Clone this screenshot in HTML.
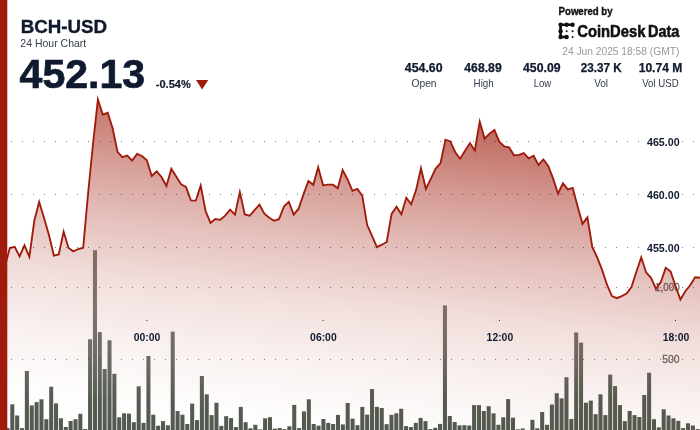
<!DOCTYPE html>
<html><head><meta charset="utf-8"><title>BCH-USD 24 Hour Chart</title>
<style>
html,body{margin:0;padding:0;background:#fff;}
body{width:700px;height:430px;overflow:hidden;position:relative;font-family:"Liberation Sans", sans-serif;}
svg{position:absolute;left:0;top:0;display:block;will-change:transform}
text{font-family:"Liberation Sans", sans-serif;}
.b{font-weight:700}
</style></head><body>
<svg width="700" height="430" viewBox="0 0 700 430">
<defs>
<linearGradient id="g" gradientUnits="userSpaceOnUse" x1="0" y1="40" x2="-42.4" y2="425.3">
<stop offset="0" stop-color="#9f1b0b" stop-opacity="0.762"/>
<stop offset="0.1133" stop-color="#9f1b0b" stop-opacity="0.625"/>
<stop offset="0.2749" stop-color="#9f1b0b" stop-opacity="0.43"/>
<stop offset="0.4338" stop-color="#9f1b0b" stop-opacity="0.268"/>
<stop offset="0.5877" stop-color="#9f1b0b" stop-opacity="0.14"/>
<stop offset="0.7497" stop-color="#9f1b0b" stop-opacity="0.055"/>
<stop offset="0.8908" stop-color="#9f1b0b" stop-opacity="0.01"/>
<stop offset="1" stop-color="#9f1b0b" stop-opacity="0"/>
</linearGradient>
<linearGradient id="bg" gradientUnits="userSpaceOnUse" x1="0" y1="250" x2="0" y2="430">
<stop offset="0" stop-color="#384236" stop-opacity="0.675"/>
<stop offset="0.333" stop-color="#384236" stop-opacity="0.685"/>
<stop offset="0.611" stop-color="#384236" stop-opacity="0.757"/>
<stop offset="0.833" stop-color="#384236" stop-opacity="0.86"/>
<stop offset="1" stop-color="#384236" stop-opacity="0.87"/>
</linearGradient>
</defs>
<rect width="700" height="430" fill="#fff"/>
<!-- volume axis -->
<g stroke="#000" stroke-opacity="0.5" stroke-width="1" stroke-dasharray="1 10"><line x1="0" x2="700" y1="287.5" y2="287.5"/><line x1="0" x2="700" y1="359.5" y2="359.5"/></g>
<g fill="#666" stroke="#666" stroke-width="0.3" font-size="10.2" text-anchor="end"><text x="679.6" y="291" textLength="24.5" lengthAdjust="spacingAndGlyphs">1,000</text><text x="679.6" y="363.2" textLength="17.3" lengthAdjust="spacingAndGlyphs">500</text></g>
<g fill="url(#bg)"><rect x="0.56" y="427.00" width="4.05" height="3.00"/><rect x="5.42" y="428.00" width="4.05" height="2.00"/><rect x="10.28" y="404.30" width="4.05" height="25.70"/><rect x="15.14" y="415.50" width="4.05" height="14.50"/><rect x="20.00" y="428.10" width="4.05" height="1.90"/><rect x="24.86" y="371.00" width="4.05" height="59.00"/><rect x="29.72" y="405.40" width="4.05" height="24.60"/><rect x="34.58" y="402.10" width="4.05" height="27.90"/><rect x="39.44" y="399.30" width="4.05" height="30.70"/><rect x="44.31" y="419.20" width="4.05" height="10.80"/><rect x="49.17" y="386.70" width="4.05" height="43.30"/><rect x="54.03" y="403.40" width="4.05" height="26.60"/><rect x="58.89" y="418.30" width="4.05" height="11.70"/><rect x="63.75" y="427.00" width="4.05" height="3.00"/><rect x="68.61" y="421.00" width="4.05" height="9.00"/><rect x="73.47" y="419.20" width="4.05" height="10.80"/><rect x="78.33" y="413.80" width="4.05" height="16.20"/><rect x="83.19" y="429.00" width="4.05" height="1.00"/><rect x="88.06" y="339.30" width="4.05" height="90.70"/><rect x="92.92" y="250.20" width="4.05" height="179.80"/><rect x="97.78" y="332.10" width="4.05" height="97.90"/><rect x="102.64" y="369.00" width="4.05" height="61.00"/><rect x="107.50" y="340.30" width="4.05" height="89.70"/><rect x="112.36" y="373.80" width="4.05" height="56.20"/><rect x="117.22" y="417.30" width="4.05" height="12.70"/><rect x="122.08" y="413.30" width="4.05" height="16.70"/><rect x="126.94" y="413.60" width="4.05" height="16.40"/><rect x="131.81" y="422.20" width="4.05" height="7.80"/><rect x="136.67" y="386.30" width="4.05" height="43.70"/><rect x="141.53" y="422.90" width="4.05" height="7.10"/><rect x="146.39" y="356.00" width="4.05" height="74.00"/><rect x="151.25" y="414.70" width="4.05" height="15.30"/><rect x="156.11" y="425.70" width="4.05" height="4.30"/><rect x="160.97" y="421.10" width="4.05" height="8.90"/><rect x="165.83" y="425.30" width="4.05" height="4.70"/><rect x="170.69" y="331.60" width="4.05" height="98.40"/><rect x="175.56" y="411.00" width="4.05" height="19.00"/><rect x="180.42" y="414.70" width="4.05" height="15.30"/><rect x="185.28" y="424.00" width="4.05" height="6.00"/><rect x="190.14" y="403.60" width="4.05" height="26.40"/><rect x="195.00" y="420.10" width="4.05" height="9.90"/><rect x="199.86" y="376.00" width="4.05" height="54.00"/><rect x="204.72" y="394.30" width="4.05" height="35.70"/><rect x="209.58" y="415.10" width="4.05" height="14.90"/><rect x="214.44" y="402.80" width="4.05" height="27.20"/><rect x="219.31" y="425.90" width="4.05" height="4.10"/><rect x="224.17" y="416.20" width="4.05" height="13.80"/><rect x="229.03" y="418.10" width="4.05" height="11.90"/><rect x="233.89" y="427.00" width="4.05" height="3.00"/><rect x="238.75" y="406.90" width="4.05" height="23.10"/><rect x="243.61" y="422.20" width="4.05" height="7.80"/><rect x="248.47" y="428.30" width="4.05" height="1.70"/><rect x="253.33" y="424.80" width="4.05" height="5.20"/><rect x="258.19" y="429.30" width="4.05" height="0.70"/><rect x="263.06" y="418.30" width="4.05" height="11.70"/><rect x="267.92" y="417.20" width="4.05" height="12.80"/><rect x="272.78" y="428.70" width="4.05" height="1.30"/><rect x="277.64" y="428.00" width="4.05" height="2.00"/><rect x="282.50" y="429.10" width="4.05" height="0.90"/><rect x="287.36" y="426.30" width="4.05" height="3.70"/><rect x="292.22" y="404.90" width="4.05" height="25.10"/><rect x="297.08" y="428.10" width="4.05" height="1.90"/><rect x="301.94" y="411.40" width="4.05" height="18.60"/><rect x="306.81" y="399.30" width="4.05" height="30.70"/><rect x="311.67" y="424.00" width="4.05" height="6.00"/><rect x="316.53" y="425.70" width="4.05" height="4.30"/><rect x="321.39" y="419.00" width="4.05" height="11.00"/><rect x="326.25" y="422.90" width="4.05" height="7.10"/><rect x="331.11" y="424.00" width="4.05" height="6.00"/><rect x="335.97" y="414.90" width="4.05" height="15.10"/><rect x="340.83" y="424.40" width="4.05" height="5.60"/><rect x="345.69" y="403.00" width="4.05" height="27.00"/><rect x="350.56" y="418.70" width="4.05" height="11.30"/><rect x="355.42" y="425.20" width="4.05" height="4.80"/><rect x="360.28" y="406.90" width="4.05" height="23.10"/><rect x="365.14" y="414.60" width="4.05" height="15.40"/><rect x="370.00" y="389.10" width="4.05" height="40.90"/><rect x="374.86" y="406.90" width="4.05" height="23.10"/><rect x="379.72" y="408.00" width="4.05" height="22.00"/><rect x="384.58" y="424.20" width="4.05" height="5.80"/><rect x="389.44" y="414.90" width="4.05" height="15.10"/><rect x="394.31" y="413.30" width="4.05" height="16.70"/><rect x="399.17" y="408.80" width="4.05" height="21.20"/><rect x="404.03" y="426.10" width="4.05" height="3.90"/><rect x="408.89" y="427.00" width="4.05" height="3.00"/><rect x="413.75" y="422.90" width="4.05" height="7.10"/><rect x="418.61" y="417.90" width="4.05" height="12.10"/><rect x="423.47" y="421.10" width="4.05" height="8.90"/><rect x="428.33" y="429.10" width="4.05" height="0.90"/><rect x="433.19" y="427.80" width="4.05" height="2.20"/><rect x="438.06" y="423.90" width="4.05" height="6.10"/><rect x="442.92" y="305.40" width="4.05" height="124.60"/><rect x="447.78" y="416.00" width="4.05" height="14.00"/><rect x="452.64" y="422.00" width="4.05" height="8.00"/><rect x="457.50" y="425.30" width="4.05" height="4.70"/><rect x="462.36" y="425.20" width="4.05" height="4.80"/><rect x="467.22" y="425.50" width="4.05" height="4.50"/><rect x="472.08" y="405.10" width="4.05" height="24.90"/><rect x="476.94" y="405.10" width="4.05" height="24.90"/><rect x="481.81" y="411.00" width="4.05" height="19.00"/><rect x="486.67" y="406.20" width="4.05" height="23.80"/><rect x="491.53" y="413.30" width="4.05" height="16.70"/><rect x="496.39" y="424.80" width="4.05" height="5.20"/><rect x="501.25" y="417.30" width="4.05" height="12.70"/><rect x="506.11" y="399.10" width="4.05" height="30.90"/><rect x="510.97" y="417.70" width="4.05" height="12.30"/><rect x="515.83" y="429.30" width="4.05" height="0.70"/><rect x="520.69" y="428.50" width="4.05" height="1.50"/><rect x="530.42" y="419.80" width="4.05" height="10.20"/><rect x="535.28" y="428.30" width="4.05" height="1.70"/><rect x="540.14" y="412.00" width="4.05" height="18.00"/><rect x="545.00" y="424.80" width="4.05" height="5.20"/><rect x="549.86" y="404.50" width="4.05" height="25.50"/><rect x="554.72" y="393.20" width="4.05" height="36.80"/><rect x="559.58" y="398.40" width="4.05" height="31.60"/><rect x="564.44" y="377.20" width="4.05" height="52.80"/><rect x="569.31" y="419.00" width="4.05" height="11.00"/><rect x="574.17" y="332.40" width="4.05" height="97.60"/><rect x="579.03" y="342.60" width="4.05" height="87.40"/><rect x="583.89" y="402.70" width="4.05" height="27.30"/><rect x="588.75" y="400.60" width="4.05" height="29.40"/><rect x="593.61" y="414.20" width="4.05" height="15.80"/><rect x="598.47" y="394.30" width="4.05" height="35.70"/><rect x="603.33" y="415.10" width="4.05" height="14.90"/><rect x="608.19" y="374.60" width="4.05" height="55.40"/><rect x="613.06" y="386.10" width="4.05" height="43.90"/><rect x="617.92" y="405.10" width="4.05" height="24.90"/><rect x="622.78" y="421.10" width="4.05" height="8.90"/><rect x="627.64" y="411.00" width="4.05" height="19.00"/><rect x="632.50" y="415.10" width="4.05" height="14.90"/><rect x="637.36" y="417.00" width="4.05" height="13.00"/><rect x="642.22" y="395.00" width="4.05" height="35.00"/><rect x="647.08" y="372.70" width="4.05" height="57.30"/><rect x="651.94" y="419.20" width="4.05" height="10.80"/><rect x="656.81" y="427.40" width="4.05" height="2.60"/><rect x="661.67" y="409.30" width="4.05" height="20.70"/><rect x="666.53" y="415.50" width="4.05" height="14.50"/><rect x="671.39" y="418.30" width="4.05" height="11.70"/><rect x="676.25" y="420.90" width="4.05" height="9.10"/><rect x="681.11" y="428.10" width="4.05" height="1.90"/><rect x="685.97" y="423.30" width="4.05" height="6.70"/><rect x="690.83" y="425.50" width="4.05" height="4.50"/><rect x="695.69" y="429.10" width="4.05" height="0.90"/></g>
<!-- price area -->
<path d="M0.00,252.00 L4.90,266.79 L9.79,248.00 L14.69,246.76 L19.58,256.36 L24.48,245.37 L29.37,256.88 L34.27,221.00 L39.16,201.86 L44.06,218.00 L48.95,235.00 L53.85,255.54 L58.74,254.50 L63.64,231.73 L68.53,248.00 L73.43,251.36 L78.32,249.00 L83.22,247.70 L88.11,193.00 L93.01,144.00 L97.90,99.50 L102.80,114.63 L107.69,112.79 L112.59,128.10 L117.48,151.80 L122.38,157.23 L127.27,155.62 L132.17,160.61 L137.06,153.87 L141.96,156.00 L146.85,160.30 L151.75,176.02 L156.64,171.40 L161.54,177.00 L166.43,185.97 L171.33,168.76 L176.22,176.60 L181.12,184.40 L186.01,186.90 L190.91,200.40 L195.80,200.66 L200.70,185.46 L205.59,211.00 L210.49,222.93 L215.38,219.01 L220.28,219.80 L225.17,215.70 L230.07,209.69 L234.97,214.69 L239.86,192.10 L244.76,214.50 L249.65,215.75 L254.55,210.20 L259.44,204.69 L264.34,213.60 L269.23,217.70 L274.13,220.70 L279.02,219.20 L283.92,206.50 L288.81,201.94 L293.71,214.70 L298.60,208.70 L303.50,194.40 L308.39,181.03 L313.29,184.81 L318.18,167.24 L323.08,185.30 L327.97,184.60 L332.87,184.70 L337.76,188.29 L342.66,169.94 L347.55,179.50 L352.45,190.81 L357.34,188.86 L362.24,195.70 L367.13,224.80 L372.03,235.90 L376.92,247.17 L381.82,244.70 L386.71,242.00 L391.61,213.90 L396.50,206.68 L401.40,214.30 L406.29,197.69 L411.19,204.21 L416.08,190.10 L420.98,168.20 L425.87,188.93 L430.77,178.80 L435.66,168.60 L440.56,163.00 L445.45,139.63 L450.35,141.40 L455.24,152.20 L460.14,158.70 L465.03,150.70 L469.93,143.10 L474.83,150.46 L479.72,121.70 L484.62,138.60 L489.51,133.60 L494.41,129.93 L499.30,141.60 L504.20,146.30 L509.09,147.40 L513.99,155.25 L518.88,154.80 L523.78,153.03 L528.67,158.33 L533.57,155.71 L538.46,164.96 L543.36,159.43 L548.25,165.90 L553.15,178.60 L558.04,193.72 L562.94,183.32 L567.83,189.36 L572.73,187.98 L577.62,206.60 L582.52,223.84 L587.41,217.32 L592.31,247.20 L597.20,257.30 L602.10,269.90 L606.99,284.70 L611.89,296.10 L616.78,298.20 L621.68,296.10 L626.57,293.50 L631.47,287.00 L636.36,271.80 L641.26,257.34 L646.15,272.50 L651.05,277.80 L655.94,288.82 L660.84,282.10 L665.73,267.88 L670.63,271.60 L675.52,286.00 L680.42,299.59 L685.31,291.20 L690.21,285.30 L695.10,277.29 L700.00,277.80 L700,430 L0,430 Z" fill="url(#g)"/>
<path d="M0.00,252.00 L4.90,266.79 L9.79,248.00 L14.69,246.76 L19.58,256.36 L24.48,245.37 L29.37,256.88 L34.27,221.00 L39.16,201.86 L44.06,218.00 L48.95,235.00 L53.85,255.54 L58.74,254.50 L63.64,231.73 L68.53,248.00 L73.43,251.36 L78.32,249.00 L83.22,247.70 L88.11,193.00 L93.01,144.00 L97.90,99.50 L102.80,114.63 L107.69,112.79 L112.59,128.10 L117.48,151.80 L122.38,157.23 L127.27,155.62 L132.17,160.61 L137.06,153.87 L141.96,156.00 L146.85,160.30 L151.75,176.02 L156.64,171.40 L161.54,177.00 L166.43,185.97 L171.33,168.76 L176.22,176.60 L181.12,184.40 L186.01,186.90 L190.91,200.40 L195.80,200.66 L200.70,185.46 L205.59,211.00 L210.49,222.93 L215.38,219.01 L220.28,219.80 L225.17,215.70 L230.07,209.69 L234.97,214.69 L239.86,192.10 L244.76,214.50 L249.65,215.75 L254.55,210.20 L259.44,204.69 L264.34,213.60 L269.23,217.70 L274.13,220.70 L279.02,219.20 L283.92,206.50 L288.81,201.94 L293.71,214.70 L298.60,208.70 L303.50,194.40 L308.39,181.03 L313.29,184.81 L318.18,167.24 L323.08,185.30 L327.97,184.60 L332.87,184.70 L337.76,188.29 L342.66,169.94 L347.55,179.50 L352.45,190.81 L357.34,188.86 L362.24,195.70 L367.13,224.80 L372.03,235.90 L376.92,247.17 L381.82,244.70 L386.71,242.00 L391.61,213.90 L396.50,206.68 L401.40,214.30 L406.29,197.69 L411.19,204.21 L416.08,190.10 L420.98,168.20 L425.87,188.93 L430.77,178.80 L435.66,168.60 L440.56,163.00 L445.45,139.63 L450.35,141.40 L455.24,152.20 L460.14,158.70 L465.03,150.70 L469.93,143.10 L474.83,150.46 L479.72,121.70 L484.62,138.60 L489.51,133.60 L494.41,129.93 L499.30,141.60 L504.20,146.30 L509.09,147.40 L513.99,155.25 L518.88,154.80 L523.78,153.03 L528.67,158.33 L533.57,155.71 L538.46,164.96 L543.36,159.43 L548.25,165.90 L553.15,178.60 L558.04,193.72 L562.94,183.32 L567.83,189.36 L572.73,187.98 L577.62,206.60 L582.52,223.84 L587.41,217.32 L592.31,247.20 L597.20,257.30 L602.10,269.90 L606.99,284.70 L611.89,296.10 L616.78,298.20 L621.68,296.10 L626.57,293.50 L631.47,287.00 L636.36,271.80 L641.26,257.34 L646.15,272.50 L651.05,277.80 L655.94,288.82 L660.84,282.10 L665.73,267.88 L670.63,271.60 L675.52,286.00 L680.42,299.59 L685.31,291.20 L690.21,285.30 L695.10,277.29 L700.00,277.80" fill="none" stroke="#9f1b0b" stroke-width="1.85" stroke-linejoin="miter" stroke-miterlimit="10"/>
<g stroke="#000" stroke-opacity="0.5" stroke-width="1" stroke-dasharray="1 10"><line x1="0" x2="700" y1="141.5" y2="141.5"/><line x1="0" x2="700" y1="194.5" y2="194.5"/><line x1="0" x2="700" y1="247.5" y2="247.5"/></g>
<!-- price labels -->
<g class="b" fill="#101a2e" font-size="11.3" text-anchor="end" stroke="#fff" stroke-width="3" paint-order="stroke" stroke-linejoin="round">
<text x="679.6" y="145.5" textLength="32.6" lengthAdjust="spacingAndGlyphs">465.00</text><text x="679.6" y="198.6" textLength="32.6" lengthAdjust="spacingAndGlyphs">460.00</text><text x="679.6" y="251.7" textLength="32.6" lengthAdjust="spacingAndGlyphs">455.00</text></g>
<!-- time labels -->
<g class="b" fill="#101a2e" font-size="11.3" text-anchor="middle">
<text x="147.1" y="341.1" textLength="26.6" lengthAdjust="spacingAndGlyphs">00:00</text><text x="323.4" y="341.1" textLength="26.6" lengthAdjust="spacingAndGlyphs">06:00</text><text x="499.9" y="341.1" textLength="26.6" lengthAdjust="spacingAndGlyphs">12:00</text><text x="676.0" y="341.1" textLength="26.6" lengthAdjust="spacingAndGlyphs">18:00</text></g>
<g fill="#333"><rect x="146.35" y="320" width="1" height="1"/><rect x="322.6" y="320" width="1" height="1"/><rect x="498.9" y="320" width="1" height="1"/><rect x="675" y="320" width="1" height="1"/></g>
<!-- left bar -->
<rect x="0" y="0" width="7.3" height="430" fill="#a01b0b"/>
<!-- header -->
<text class="b" x="20.7" y="33.1" font-size="17.5" fill="#101a2e" stroke="#101a2e" stroke-width="0.35" textLength="86.4" lengthAdjust="spacingAndGlyphs">BCH-USD</text>
<text x="20.3" y="46.9" font-size="10.8" fill="#333b4b" textLength="66" lengthAdjust="spacingAndGlyphs">24 Hour Chart</text>
<text class="b" x="19.6" y="88.2" font-size="40" fill="#101a2e" stroke="#101a2e" stroke-width="0.7" textLength="125.6" lengthAdjust="spacingAndGlyphs">452.13</text>
<text class="b" x="155.8" y="88.2" font-size="11" fill="#101a2e" stroke="#101a2e" stroke-width="0.2" textLength="35" lengthAdjust="spacingAndGlyphs">-0.54%</text>
<path d="M196,80 L208.2,80 L202.1,89.6 Z" fill="#9f1b0b"/>
<!-- powered by -->
<text class="b" x="558.6" y="14.6" font-size="10.5" fill="#111" stroke="#111" stroke-width="0.35" textLength="54" lengthAdjust="spacingAndGlyphs">Powered by</text>
<g fill="#111" stroke="#111">
<path d="M572.6,24.8 L560.6,24.8 L560.6,37 L566.6,37" fill="none" stroke-width="2.6" stroke-linecap="round" stroke-linejoin="round"/>
<g stroke="none"><circle cx="560.6" cy="24.8" r="2.2"/><circle cx="566.6" cy="24.8" r="2.2"/><circle cx="572.6" cy="24.8" r="2.2"/><circle cx="560.6" cy="31.2" r="2.2"/><circle cx="560.6" cy="37" r="2.2"/><circle cx="566.6" cy="37" r="2.2"/>
<circle cx="566.6" cy="31.2" r="1"/><circle cx="572.6" cy="31.2" r="1"/><circle cx="572.6" cy="37" r="1"/></g></g>
<text class="b" x="577.2" y="36.7" font-size="16.4" fill="#111" stroke="#111" stroke-width="0.55" textLength="68.3" lengthAdjust="spacingAndGlyphs">CoinDesk</text><text class="b" x="648" y="36.7" font-size="16.4" fill="#111" stroke="#111" stroke-width="0.55" textLength="31.3" lengthAdjust="spacingAndGlyphs">Data</text>
<text x="562.2" y="54.9" font-size="11.2" fill="#999" textLength="117.2" lengthAdjust="spacingAndGlyphs">24 Jun 2025 18:58 (GMT)</text>
<!-- stats -->
<g class="b" fill="#101a2e" stroke="#101a2e" stroke-width="0.25" font-size="12" text-anchor="middle">
<text x="423.7" y="71.8" textLength="37.7" lengthAdjust="spacingAndGlyphs">454.60</text><text x="483" y="71.8" textLength="37.4" lengthAdjust="spacingAndGlyphs">468.89</text><text x="541.8" y="71.8" textLength="37.5" lengthAdjust="spacingAndGlyphs">450.09</text><text x="601.2" y="71.8" textLength="41.0" lengthAdjust="spacingAndGlyphs">23.37 K</text><text x="660.5" y="71.8" textLength="43.6" lengthAdjust="spacingAndGlyphs">10.74 M</text></g>
<g fill="#333b4b" font-size="10.8"><text x="411.4" y="86.7" textLength="25.2" lengthAdjust="spacingAndGlyphs">Open</text><text x="473.6" y="86.7" textLength="20.1" lengthAdjust="spacingAndGlyphs">High</text><text x="533.7" y="86.7" textLength="17.6" lengthAdjust="spacingAndGlyphs">Low</text><text x="594.2" y="86.7" textLength="13.9" lengthAdjust="spacingAndGlyphs">Vol</text><text x="642.2" y="86.7" textLength="36.6" lengthAdjust="spacingAndGlyphs">Vol USD</text></g>
</svg>
</body></html>
